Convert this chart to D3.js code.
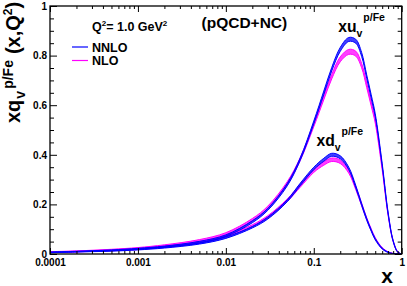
<!DOCTYPE html>
<html><head><meta charset="utf-8">
<script src="https://cdn.jsdelivr.net/npm/d3@7"></script>
<style>
html,body{margin:0;padding:0;background:#fff;}
text{font-family:"Liberation Sans",Arial,Helvetica,sans-serif;font-weight:bold;}
</style></head>
<body>
<svg id="chart" width="407" height="286"></svg>
<script>
// ---- data ----
const xs = [0.0001,0.0002,0.0005,0.001,0.002,0.005,0.01,0.02,0.03,0.05,0.07,0.1,0.13,0.16,0.2,0.25,0.3,0.35,0.4,0.45,0.5,0.6,0.7,0.8,0.9,1.0];
const uNNLO = [0.007,0.010,0.015,0.021,0.030,0.048,0.074,0.130,0.180,0.280,0.382,0.530,0.650,0.745,0.825,0.865,0.858,0.805,0.715,0.635,0.560,0.360,0.165,0.052,0.008,0];
const uNLO  = [0.008,0.011,0.017,0.024,0.034,0.054,0.082,0.138,0.188,0.286,0.382,0.520,0.630,0.715,0.785,0.815,0.808,0.760,0.680,0.605,0.535,0.345,0.160,0.052,0.008,0];
const dNNLO = [0.006,0.009,0.013,0.018,0.026,0.042,0.066,0.108,0.145,0.215,0.280,0.345,0.380,0.400,0.390,0.345,0.272,0.200,0.140,0.095,0.060,0.022,0.007,0.0015,0.0002,0];
const dNLO  = [0.007,0.010,0.015,0.020,0.029,0.047,0.072,0.114,0.150,0.217,0.275,0.335,0.365,0.380,0.372,0.332,0.266,0.200,0.142,0.098,0.063,0.024,0.008,0.002,0.0003,0];
const uNNLOerr = [0.001,0.001,0.0015,0.002,0.002,0.003,0.003,0.004,0.004,0.005,0.005,0.006,0.007,0.007,0.008,0.008,0.008,0.008,0.007,0.007,0.006,0.005,0.004,0.002,0.001,0];
const uNLOerr  = [0.0015,0.0015,0.002,0.002,0.003,0.004,0.004,0.005,0.005,0.006,0.006,0.007,0.008,0.009,0.010,0.010,0.010,0.009,0.009,0.008,0.007,0.006,0.004,0.002,0.001,0];
const dNNLOerr = [0.001,0.001,0.0015,0.0015,0.002,0.002,0.003,0.003,0.004,0.004,0.005,0.005,0.006,0.006,0.006,0.005,0.005,0.004,0.004,0.003,0.003,0.002,0.001,0.0005,0,0];
const dNLOerr  = [0.0015,0.0015,0.002,0.002,0.0025,0.003,0.0035,0.004,0.0045,0.005,0.006,0.006,0.007,0.007,0.007,0.006,0.006,0.005,0.004,0.004,0.003,0.002,0.001,0.0005,0,0];
const xTickValues = [0.0001,0.001,0.01,0.1,1];
const xTickLabels = ["0.0001","0.001","0.01","0.1","1"];
const yTickValues = [0,0.2,0.4,0.6,0.8,1];
const yTickLabels = ["0","0.2","0.4","0.6","0.8","1"];
const yMinorValues = [0.05,0.1,0.15,0.25,0.3,0.35,0.45,0.5,0.55,0.65,0.7,0.75,0.85,0.9,0.95];
const seriesNames = ["NNLO","NLO"];
const seriesColors = ["#0000ff","#ff00ff"];

// ---- layout ----
const W=407,H=286;
const m={left:50,right:5.3,top:6,bottom:32};
const svg=d3.select("#chart");
const x=d3.scaleLog().domain([1e-4,1]).range([m.left,W-m.right]);
const y=d3.scaleLinear().domain([0,1]).range([H-m.bottom,m.top]);

const xMinor=[];
for(let e=-4;e<0;e++) for(let k=2;k<=9;k++) xMinor.push(k*Math.pow(10,e));

// ---- bands and lines ----
function bandData(c,err){return xs.map((v,i)=>({x:v,lo:Math.max(0,c[i]-err[i]),hi:c[i]+err[i],c:c[i]}));}
const curve=d3.curveCatmullRom.alpha(0.5);
const area=d3.area().x(d=>x(d.x)).y0(d=>y(d.lo)).y1(d=>y(d.hi)).curve(curve);
const lineHi=d3.line().x(d=>x(d.x)).y(d=>y(d.hi)).curve(curve);
const lineLo=d3.line().x(d=>x(d.x)).y(d=>y(d.lo)).curve(curve);
svg.append("clipPath").attr("id","pc").append("rect")
  .attr("x",m.left).attr("y",m.top).attr("width",W-m.right-m.left).attr("height",H-m.bottom-m.top);
const g=svg.append("g").attr("clip-path","url(#pc)");
const sets=[
  {c:dNLO,e:dNLOerr,col:seriesColors[1]},
  {c:uNLO,e:uNLOerr,col:seriesColors[1]},
  {c:dNNLO,e:dNNLOerr,col:seriesColors[0]},
  {c:uNNLO,e:uNNLOerr,col:seriesColors[0]}
];
sets.forEach(s=>{
  const bd=bandData(s.c,s.e);
  g.append("path").datum(bd).attr("d",area).attr("fill",s.col).attr("fill-opacity",0.75);
  g.append("path").datum(bd).attr("d",lineHi).attr("fill","none").attr("stroke",s.col).attr("stroke-width",1);
  g.append("path").datum(bd).attr("d",lineLo).attr("fill","none").attr("stroke",s.col).attr("stroke-width",1);
});

// ---- axes ----
const fs=10;
function styleAxis(sel){sel.select(".domain").remove();sel.selectAll("line").attr("stroke","#000").attr("stroke-width",1);}
svg.append("g").attr("transform",`translate(0,${H-m.bottom})`)
  .call(d3.axisBottom(x).tickValues(xMinor).tickSize(-3).tickFormat(""))
  .call(styleAxis);
svg.append("g").attr("transform",`translate(0,${H-m.bottom})`)
  .call(d3.axisBottom(x).tickValues(xTickValues).tickSize(-6).tickPadding(4).tickFormat((d,i)=>xTickLabels[i]))
  .call(styleAxis)
  .call(s=>s.selectAll("text").attr("font-size",fs).attr("fill","#000").attr("y",4).attr("dy","0.78em"));
svg.append("g").attr("transform",`translate(0,${m.top})`)
  .call(d3.axisTop(x).tickValues(xMinor).tickSize(-3).tickFormat("")).call(styleAxis);
svg.append("g").attr("transform",`translate(0,${m.top})`)
  .call(d3.axisTop(x).tickValues(xTickValues).tickSize(-6).tickFormat("")).call(styleAxis);
svg.append("g").attr("transform",`translate(${m.left},0)`)
  .call(d3.axisLeft(y).tickValues(yMinorValues).tickSize(-4).tickFormat("")).call(styleAxis);
svg.append("g").attr("transform",`translate(${m.left},0)`)
  .call(d3.axisLeft(y).tickValues(yTickValues).tickSize(-7).tickPadding(3).tickFormat((d,i)=>yTickLabels[i]))
  .call(styleAxis)
  .call(s=>s.selectAll("text").attr("font-size",fs).attr("fill","#000").attr("x",-3));
svg.append("g").attr("transform",`translate(${W-m.right},0)`)
  .call(d3.axisRight(y).tickValues(yMinorValues).tickSize(-4).tickFormat("")).call(styleAxis);
svg.append("g").attr("transform",`translate(${W-m.right},0)`)
  .call(d3.axisRight(y).tickValues(yTickValues).tickSize(-7).tickFormat("")).call(styleAxis);
svg.append("rect").attr("x",m.left).attr("y",m.top).attr("width",W-m.right-m.left).attr("height",H-m.bottom-m.top)
  .attr("fill","none").attr("stroke","#000").attr("stroke-width",1.3);

// ---- titles ----
svg.append("text").attr("x",393).attr("y",283).attr("text-anchor","end").attr("font-size",21).text("x");
const yt=svg.append("text").attr("transform","translate(20,123) rotate(-90)").attr("font-size",20);
yt.append("tspan").text("xq");
yt.append("tspan").attr("font-size",14).attr("dx",1).attr("dy",5).text("v");
yt.append("tspan").attr("font-size",14).attr("dx",2).attr("dy",-12).text("p/Fe");
yt.append("tspan").attr("dx",6).attr("dy",7).text("(x,Q");
yt.append("tspan").attr("font-size",12).attr("dy",-8).text("2");
yt.append("tspan").attr("dy",8).text(")");

svg.append("text").attr("x",201.5).attr("y",27.5).attr("font-size",15.5).text("(pQCD+NC)");
const q=svg.append("text").attr("x",92).attr("y",31).attr("font-size",12.5);
q.append("tspan").text("Q");
q.append("tspan").attr("font-size",8).attr("dy",-5).text("2");
q.append("tspan").attr("dy",5).text("= 1.0 GeV");
q.append("tspan").attr("font-size",8).attr("dy",-5).text("2");

seriesNames.forEach((n,i)=>{
  const ly=47+i*13.5;
  svg.append("line").attr("x1",72).attr("x2",88).attr("y1",ly).attr("y2",ly).attr("stroke",seriesColors[i]).attr("stroke-width",1.2);
  svg.append("text").attr("x",92).attr("y",ly+4.6).attr("font-size",12.5).text(n);
});

function pdfLabel(px,py,main){
  svg.append("text").attr("x",px).attr("y",py).attr("font-size",15.7).text(main);
  svg.append("text").attr("x",px+18.3).attr("y",py+5.5).attr("font-size",10.5).text("v");
  svg.append("text").attr("x",px+25).attr("y",py-10.5).attr("font-size",10.5).text("p/Fe");
}
pdfLabel(338.3,31.5,"xu");
pdfLabel(316.5,145.5,"xd");
</script>
</body></html>
